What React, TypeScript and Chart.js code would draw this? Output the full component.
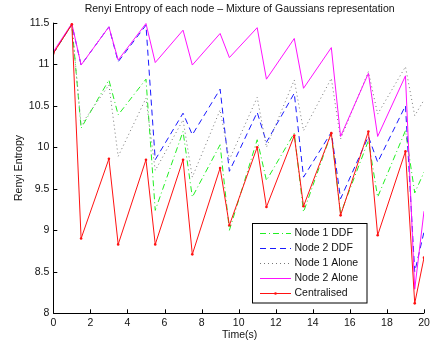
import React, { useEffect, useRef } from "react";
import { Chart, registerables } from "chart.js";

Chart.register(...registerables);

const titleText = "Renyi Entropy of each node \u2013 Mixture of Gaussians representation";
const xLabel = "Time(s)";
const yLabel = "Renyi Entropy";

const times = [0, 1, 1.5, 3, 3.5, 5, 5.5, 7, 7.5, 9, 9.5, 11, 11.5, 13, 13.5, 15, 15.5, 17, 17.5, 19, 19.5, 20];
const node1DDF = [11.13, 11.48, 10.23, 10.81, 10.39, 10.82, 9.24, 10.19, 9.4, 10.03, 9.0, 10.09, 9.6, 10.17, 9.22, 10.17, 9.2, 10.08, 9.4, 10.2, 9.45, 9.7];
const node2DDF = [11.13, 11.48, 10.99, 11.45, 11.03, 11.47, 9.85, 10.41, 10.15, 10.7, 9.71, 10.42, 10.06, 10.65, 9.64, 10.18, 9.38, 10.13, 9.82, 10.5, 8.5, 8.98];
const node1Alone = [11.13, 11.48, 10.27, 10.75, 9.89, 10.59, 9.72, 10.33, 9.64, 10.45, 9.85, 10.6, 10.0, 10.81, 10.2, 10.83, 10.1, 10.91, 10.4, 10.97, 10.38, 10.57];
const node2Alone = [11.15, 11.49, 10.99, 11.45, 11.05, 11.49, 11.02, 11.41, 10.99, 11.37, 11.08, 11.44, 10.82, 11.31, 10.71, 11.2, 10.13, 10.89, 10.13, 10.86, 8.29, 9.23];
const centralised = [11.13, 11.48, 8.9, 9.86, 8.83, 9.85, 8.83, 9.85, 8.71, 9.75, 9.06, 10.0, 9.28, 10.14, 9.29, 10.17, 9.18, 10.19, 8.94, 9.95, 8.12, 8.67];

const seriesNames = ["Node 1 DDF", "Node 2 DDF", "Node 1 Alone", "Node 2 Alone", "Centralised"];
const seriesValues = [node1DDF, node2DDF, node1Alone, node2Alone, centralised];
const seriesColors = ["#22ee22", "#1a1aff", "#777777", "#ff11ff", "#ff1111"];
const seriesDashes: number[][] = [[6, 3, 1, 3], [6, 4], [1, 3], [], []];

const xTicks = [0, 2, 4, 6, 8, 10, 12, 14, 16, 18, 20];
const yTicks = [8, 8.5, 9, 9.5, 10, 10.5, 11, 11.5];

const FONT = "'Liberation Sans', Arial, Helvetica, sans-serif";

const decorPlugin = {
  id: "decor",
  afterDraw(chart: any) {
    const ctx = chart.ctx as CanvasRenderingContext2D;
    const { left, right, top, bottom } = chart.chartArea;
    const xs = chart.scales.x;
    const ys = chart.scales.y;
    ctx.save();
    // axes
    ctx.strokeStyle = "#000";
    ctx.lineWidth = 1;
    ctx.setLineDash([]);
    ctx.beginPath();
    ctx.moveTo(Math.round(left) + 0.5, top);
    ctx.lineTo(Math.round(left) + 0.5, Math.round(bottom) + 0.5);
    ctx.lineTo(right, Math.round(bottom) + 0.5);
    ctx.stroke();
    // inward ticks
    ctx.beginPath();
    xTicks.forEach((t) => {
      const px = Math.round(xs.getPixelForValue(t)) + 0.5;
      ctx.moveTo(px, bottom);
      ctx.lineTo(px, bottom - 4);
    });
    yTicks.forEach((t) => {
      const py = Math.round(ys.getPixelForValue(t)) + 0.5;
      ctx.moveTo(left, py);
      ctx.lineTo(left + 4, py);
    });
    ctx.stroke();
    // title and axis labels
    ctx.fillStyle = "#111";
    ctx.font = `10.5px ${FONT}`;
    ctx.textAlign = "center";
    ctx.textBaseline = "middle";
    ctx.fillText(titleText, (left + right) / 2 + 1, 9);
    ctx.fillText(xLabel, (left + right) / 2 + 1, 335);
    ctx.save();
    ctx.translate(19, (top + bottom) / 2);
    ctx.rotate(-Math.PI / 2);
    ctx.fillText(yLabel, 0, 0);
    ctx.restore();

    // legend
    const lx = right - 172.5;
    const ly = bottom - 90;
    const lw = 114.5;
    const lh = 79.5;
    ctx.fillStyle = "#fff";
    ctx.fillRect(lx, ly, lw, lh);
    ctx.strokeStyle = "#000";
    ctx.lineWidth = 1;
    ctx.strokeRect(Math.round(lx) + 0.5, Math.round(ly) + 0.5, lw, lh);
    ctx.font = `10.5px ${FONT}`;
    ctx.textAlign = "left";
    ctx.textBaseline = "middle";
    seriesNames.forEach((name, i) => {
      const yy = Math.round(ly + 9.5 + i * 15.1) + 0.5;
      ctx.strokeStyle = seriesColors[i];
      ctx.lineWidth = 1;
      ctx.setLineDash(seriesDashes[i]);
      ctx.beginPath();
      ctx.moveTo(lx + 8.5, yy);
      ctx.lineTo(lx + 39.5, yy);
      ctx.stroke();
      ctx.setLineDash([]);
      if (i === 4) {
        ctx.fillStyle = seriesColors[i];
        ctx.beginPath();
        ctx.arc(lx + 24, yy, 1.3, 0, Math.PI * 2);
        ctx.fill();
      }
      ctx.fillStyle = "#111";
      ctx.fillText(name, lx + 43, yy);
    });
    ctx.restore();
  },
};

export default function App() {
  const canvasRef = useRef<HTMLCanvasElement | null>(null);

  useEffect(() => {
    const canvas = canvasRef.current;
    if (!canvas) return;
    const n = seriesNames.length;
    const datasets = seriesNames.map((name, i) => ({
      label: name,
      data: times.map((t, j) => ({ x: t, y: seriesValues[i][j] })),
      borderColor: seriesColors[i],
      backgroundColor: seriesColors[i],
      borderWidth: 1,
      borderDash: seriesDashes[i],
      pointRadius: i === 4 ? 1.3 : 0,
      pointBorderWidth: 0,
      tension: 0,
      fill: false,
      order: n - 1 - i,
    }));
    const chart = new Chart(canvas, {
      type: "line",
      data: { datasets },
      options: {
        animation: false,
        responsive: false,
        devicePixelRatio: 1,
        layout: { padding: { left: 0, right: 6, top: 22.7, bottom: 0 } },
        plugins: { legend: { display: false }, tooltip: { enabled: false }, title: { display: false } },
        scales: {
          x: {
            type: "linear",
            min: 0,
            max: 20,
            afterFit: (s: any) => { s.height = 27.7; s.paddingLeft = 0; s.paddingRight = 0; },
            afterBuildTicks: (s: any) => { s.ticks = xTicks.map((v) => ({ value: v })); },
            grid: { display: false, drawTicks: false },
            border: { display: false },
            ticks: { color: "#111", padding: 4, font: { family: FONT, size: 10.5 }, maxRotation: 0, autoSkip: false, callback: (v: any) => String(v) },
          },
          y: {
            type: "linear",
            min: 8,
            max: 11.5,
            afterFit: (s: any) => { s.width = 53.3; s.paddingTop = 0; s.paddingBottom = 0; },
            afterBuildTicks: (s: any) => { s.ticks = yTicks.map((v) => ({ value: v })); },
            grid: { display: false, drawTicks: false },
            border: { display: false },
            ticks: { color: "#111", padding: 4, font: { family: FONT, size: 10.5 }, autoSkip: false, callback: (v: any) => String(v) },
          },
        },
      },
      plugins: [decorPlugin],
    });
    return () => chart.destroy();
  }, []);

  return (
    <div style={{ position: "absolute", left: 0, top: 0, width: 430, height: 341, background: "#fff" }}>
      <canvas ref={canvasRef} width={430} height={341} style={{ width: 430, height: 341 }} />
    </div>
  );
}
